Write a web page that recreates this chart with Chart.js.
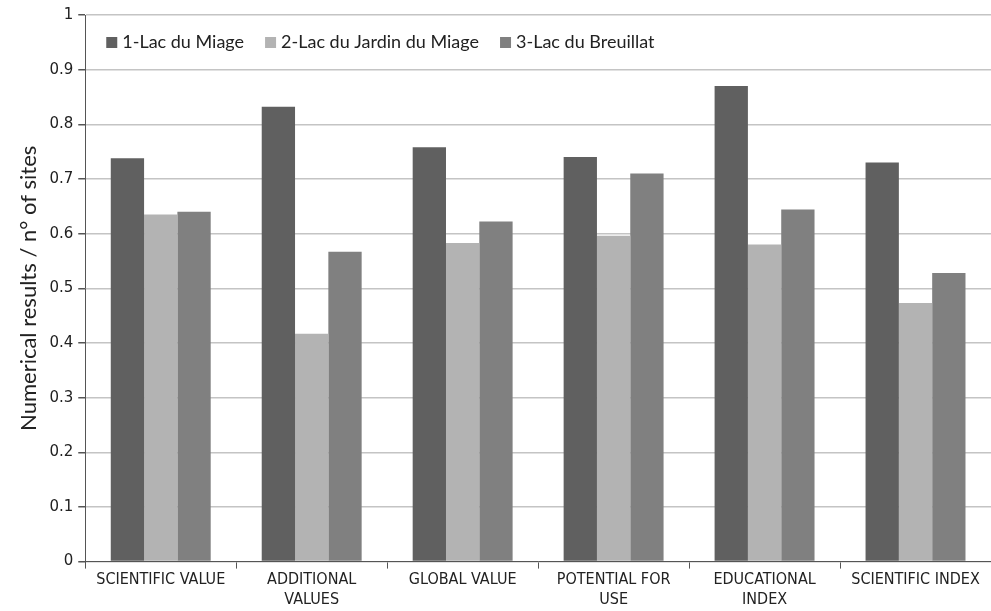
<!DOCTYPE html>
<html>
<head>
<meta charset="utf-8">
<script src="https://cdn.jsdelivr.net/npm/chart.js@4/dist/chart.umd.min.js"></script>
<style>
  html, body { margin: 0; padding: 0; background: #fff; }
  #wrap { width: 991px; height: 611px; }
</style>
</head>
<body>
<div id="wrap"><canvas id="myChart"></canvas></div>
<script>
// categories and series
var categories = [
  "SCIENTIFIC VALUE",
  ["ADDITIONAL", "VALUES"],
  "GLOBAL VALUE",
  ["POTENTIAL FOR", "USE"],
  ["EDUCATIONAL", "INDEX"],
  "SCIENTIFIC INDEX"
];
var lacMiage = [0.738, 0.832, 0.758, 0.740, 0.870, 0.730];
var lacJardin = [0.635, 0.417, 0.583, 0.596, 0.580, 0.473];
var lacBreuillat = [0.640, 0.567, 0.622, 0.710, 0.644, 0.528];
var yTicks = [0, 0.1, 0.2, 0.3, 0.4, 0.5, 0.6, 0.7, 0.8, 0.9, 1];

var ctx = document.getElementById("myChart");

// legend drawn in one row inside the plot area, top left
var innerLegend = {
  id: "innerLegend",
  afterDraw: function (chart) {
    var c = chart.ctx;
    var x = chart.chartArea.left + 21;
    var y = chart.chartArea.top + 27;
    c.save();
    c.font = "18px Lato, 'Open Sans', sans-serif";
    c.textBaseline = "middle";
    chart.data.datasets.forEach(function (ds) {
      c.fillStyle = ds.backgroundColor;
      c.fillRect(x, y - 5, 11, 11);
      x += 16;
      c.fillStyle = "#222";
      c.fillText(ds.label, x, y);
      x += c.measureText(ds.label).width + 21;
    });
    c.restore();
  }
};

var myChart = new Chart(ctx, {
  type: "bar",
  data: {
    labels: categories,
    datasets: [
      { label: "1-Lac du Miage", data: lacMiage, backgroundColor: "#606060" },
      { label: "2-Lac du Jardin du Miage", data: lacJardin, backgroundColor: "#b3b3b3" },
      { label: "3-Lac du Breuillat", data: lacBreuillat, backgroundColor: "#808080" }
    ]
  },
  plugins: [innerLegend],
  options: {
    responsive: true,
    maintainAspectRatio: false,
    animation: false,
    datasets: {
      bar: { barPercentage: 1.0, categoryPercentage: 0.662 }
    },
    layout: { padding: { top: 15, right: 0, left: 16, bottom: 0 } },
    plugins: {
      tooltip: { enabled: false },
      legend: { display: false }
    },
    scales: {
      x: {
        grid: {
          display: true,
          drawOnChartArea: false,
          drawTicks: true,
          tickLength: 7,
          color: "#555",
          offset: true
        },
        border: { color: "#555", width: 1 },
        ticks: {
          color: "#222",
          maxRotation: 0,
          autoSkip: false,
          padding: 2,
          font: { family: "'Liberation Sans Narrow', 'DejaVu Sans Condensed', sans-serif", size: 16 }
        }
      },
      y: {
        min: 0,
        max: 1,
        afterBuildTicks: function (axis) {
          axis.ticks = yTicks.map(function (v) { return { value: v }; });
        },
        grid: {
          color: "#c4c4c4",
          lineWidth: 1.5,
          tickLength: 7,
          tickColor: "#555"
        },
        border: { color: "#555", width: 1 },
        ticks: {
          color: "#222",
          padding: 5,
          font: { family: "'DejaVu Sans', sans-serif", size: 15 },
          callback: function (v) { return String(Math.round(v * 10) / 10); }
        },
        title: {
          display: true,
          text: "Numerical results / n\u00b0 of sites",
          color: "#222",
          padding: { top: 0, bottom: 2 },
          font: { family: "Lato, 'Open Sans', sans-serif", size: 22 }
        }
      }
    }
  }
});
</script>
</body>
</html>
